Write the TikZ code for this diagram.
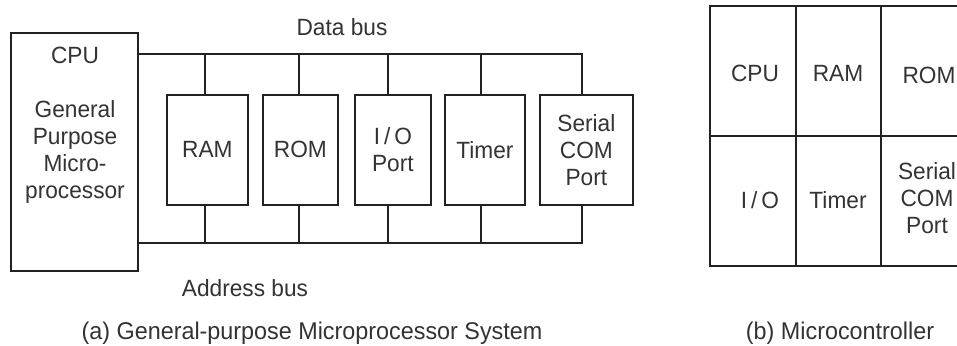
\documentclass[tikz,border=0pt]{standalone}
\usepackage{fontspec}
\setmainfont{Liberation Sans}[FakeStretch=0.965]
\definecolor{txt}{HTML}{333333}
\definecolor{ln}{HTML}{222222}
\begin{document}
\begin{tikzpicture}[x=1pt,y=-1pt,
  every node/.style={text=txt,font=\fontsize{23.5}{27}\selectfont,inner sep=0pt},
  blk/.style={draw=ln,line width=1.8pt,rectangle,anchor=north west},
  bus/.style={draw=ln,line width=1.8pt},
  cell/.style={draw=ln,line width=1.8pt,rectangle,anchor=north west,align=center},
  captxt/.style={font=\fontsize{24.2}{28}\selectfont}]
\useasboundingbox (0,0) rectangle (957,345);
% (a) microprocessor system
\node[blk,minimum width=127pt,minimum height=238pt] (cpu) at (10,32) {};
\node[anchor=center] (cputxt) at (75,55) {CPU};
\node[anchor=north,align=center] (gpm) at (75,100) {General\\Purpose\\Micro-\\processor};
\node[blk,minimum width=81pt,minimum height=110pt] (ram) at (166,94) {};
\node (ramt) at (ram.center) {RAM};
\node[blk,minimum width=75pt,minimum height=110pt] (rom) at (262,94) {};
\node (romt) at (rom.center) {ROM};
\node[blk,minimum width=76pt,minimum height=110pt] (io) at (354,94) {};
\node[align=center] (iot) at (io.center) {I\,/\,O\\Port};
\node[blk,minimum width=80pt,minimum height=110pt] (tim) at (444,94) {};
\node (timt) at (tim.center) {Timer};
\node[blk,minimum width=93pt,minimum height=110pt] (ser) at (539,94) {};
\node[align=center] (sert) at (ser.center) {Serial\\COM\\Port};
% bus coordinates
\coordinate (dL) at (137,54);
\coordinate (dR) at (582,54);
\coordinate (aL) at (137,243);
\coordinate (aR) at (582,243);
\draw[bus] (dL) -- (dR) -- (dR |- ser.north);
\draw[bus] (aL) -- (aR) -- (aR |- ser.south);
\draw[bus] (205,54) -- (205,94);
\draw[bus] (299,54) -- (299,94);
\draw[bus] (388,54) -- (388,94);
\draw[bus] (481,54) -- (481,94);
\draw[bus] (205,204) -- (205,243);
\draw[bus] (299,204) -- (299,243);
\draw[bus] (388,204) -- (388,243);
\draw[bus] (481,204) -- (481,243);
\node (dbus) at (342,27) {Data bus};
\node (abus) at (245,288) {Address bus};
\node[captxt] (capa) at (312,333) {(a) General-purpose Microprocessor System};
% (b) microcontroller
\node[cell,minimum width=86pt,minimum height=130pt] (c1) at (709,5) {};
\node (c1t) at (755,73) {CPU};
\node[cell,minimum width=85pt,minimum height=130pt] (c2) at (795,5) {};
\node (c2t) at (838,73) {RAM};
\node[cell,minimum width=94pt,minimum height=130pt] (c3) at (880,5) {};
\node (c3t) at (929,75) {ROM};
\node[cell,minimum width=86pt,minimum height=130pt] (c4) at (709,135) {};
\node (c4t) at (760,200) {I\,/\,O};
\node[cell,minimum width=85pt,minimum height=130pt] (c5) at (795,135) {};
\node (c5t) at (838,200) {Timer};
\node[cell,minimum width=94pt,minimum height=130pt] (c6) at (880,135) {};
\node[align=center] (c6t) at (927,198) {Serial\\COM\\Port};
\node[captxt] (capb) at (840,333) {(b) Microcontroller};
\end{tikzpicture}
\end{document}
